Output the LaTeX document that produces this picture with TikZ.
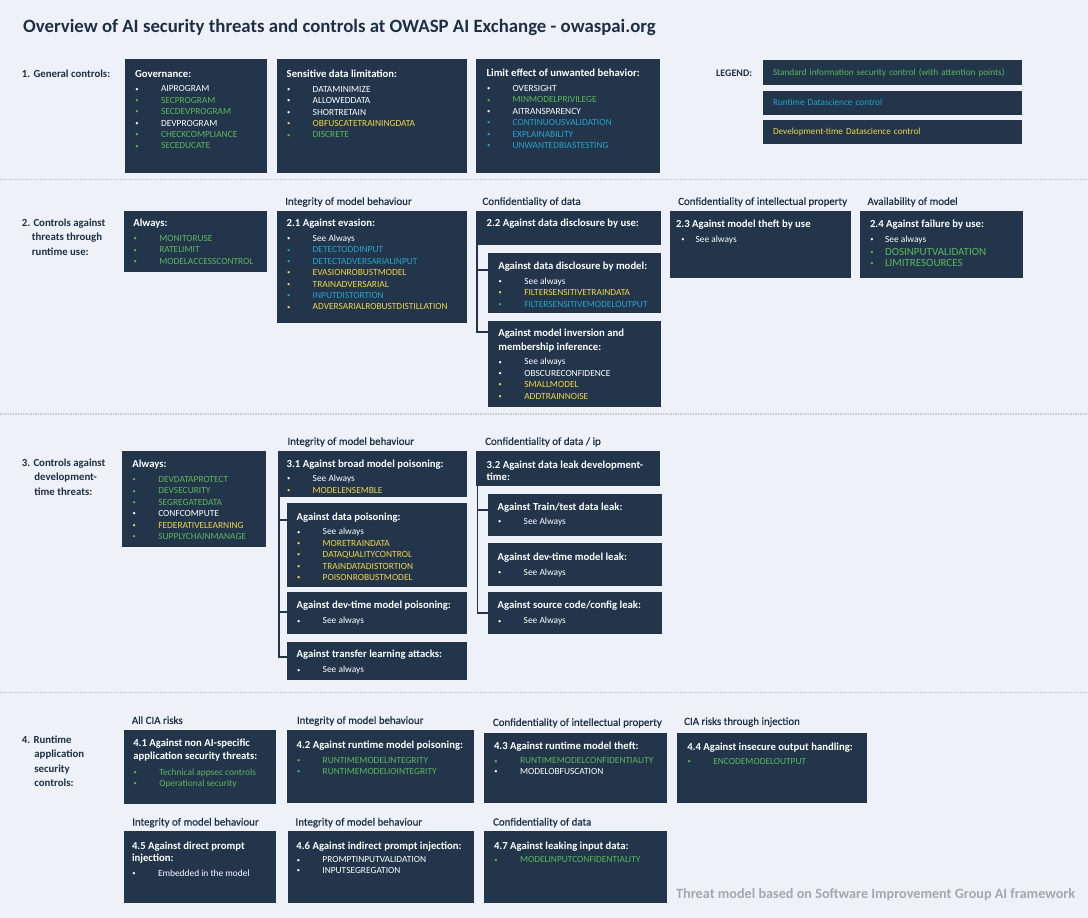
\documentclass[tikz,border=0pt]{standalone}
\usepackage{fontspec}
\setmainfont{Carlito}
\newfontfamily\semib[FakeBold=0.6]{Carlito}
\definecolor{bg}{HTML}{EEF2F8}
\definecolor{navy}{HTML}{22354B}
\definecolor{dk}{HTML}{1E2F45}
\definecolor{gr}{HTML}{5CB85C}
\definecolor{tl}{HTML}{27A4CB}
\definecolor{yl}{HTML}{F0D54A}
\definecolor{ft}{HTML}{A4A8AD}
\definecolor{sepc}{HTML}{C6CAD0}
\tikzset{
 box/.style={fill=navy, draw=none, inner sep=0pt, outer sep=0pt, anchor=north west},
 ct/.style={anchor=north west, inner sep=0pt, outer sep=0pt, align=left, text=white, font=\fontsize{9.4}{11.4}\selectfont},
 cat/.style={anchor=base west, inner sep=0pt, text=dk, font=\semib\fontsize{10.9}{12}\selectfont},
 sec/.style={anchor=north west, inner sep=0pt, align=left, text=dk, font=\bfseries\fontsize{10.8}{14.5}\selectfont},
 conn/.style={draw=navy, line width=1.8pt},
 sepl/.style={draw=sepc, line width=1.3pt, dash pattern=on 1.5pt off 1pt},
 lgbox/.style={box, minimum width=259pt, text width=239pt, align=left, inner xsep=10pt, inner ysep=0pt, font=\fontsize{9.2}{10}\selectfont},
}
\newcommand\hd[1]{\rule{0pt}{9pt}{\bfseries\fontsize{10.7}{11.4}\selectfont #1}}
\newcommand\blt{\raisebox{0.8pt}{\fontsize{6.5}{7}\selectfont\textbullet}}
\newcommand\itm[3][26pt]{\textcolor{#2}{\makebox[#1][l]{\hspace*{0.4pt}\blt}#3}}
\newcommand\bx[5]{\node[box, minimum width={#4pt-#2pt}, minimum height={#5pt-#3pt}] (#1) at (#2,#3) {};}
\newcommand\ctn[4]{\node[ct] (#1) at (#2,{#3-5.6}) {#4};}
\begin{document}
\begin{tikzpicture}[x=1pt,y=-1pt]
\useasboundingbox (0,0) rectangle (1088,918);
\fill[bg] (0,0) rectangle (1088,918);
% title
\node[anchor=base west, inner sep=0pt, text=dk, font=\bfseries\fontsize{18.8}{22}\selectfont] (title) at (23,32.8) {Overview of AI security threats and controls at OWASP AI Exchange - owaspai.org};
% separators
\draw[sepl] (0,179.5) -- (1088,179.5);
\draw[sepl] (0,414) -- (1088,414);
\draw[sepl] (0,692.5) -- (1088,692.5);
% ---------- section 1
\node[sec] (l1) at (21.7,{74-5.5}) {\rule{0pt}{9pt}1. General controls:};
\bx{gov}{125}{59}{266.7}{172.7}
\ctn{tgov}{135}{73.7}{\hd{Governance:}\\[3.4pt]
\itm{white}{AIPROGRAM}\\
\itm{gr}{SECPROGRAM}\\
\itm{gr}{SECDEVPROGRAM}\\
\itm{white}{DEVPROGRAM}\\
\itm{gr}{CHECKCOMPLIANCE}\\
\itm{gr}{SECEDUCATE}}
\bx{sdl}{277}{59}{466.7}{172.7}
\ctn{tsdl}{286.7}{74}{\hd{Sensitive data limitation:}\\[3.4pt]
\itm{white}{DATAMINIMIZE}\\
\itm{white}{ALLOWEDDATA}\\
\itm{white}{SHORTRETAIN}\\
\itm{yl}{OBFUSCATETRAININGDATA}\\
\itm{gr}{DISCRETE}}
\bx{lim}{476}{59}{660}{172.7}
\ctn{tlim}{486.6}{73.3}{\hd{Limit effect of unwanted behavior:}\\[3.4pt]
\itm{white}{OVERSIGHT}\\
\itm{gr}{MINMODELPRIVILEGE}\\
\itm{white}{AITRANSPARENCY}\\
\itm{tl}{CONTINUOUSVALIDATION}\\
\itm{tl}{EXPLAINABILITY}\\
\itm{tl}{UNWANTEDBIASTESTING}}
\node[anchor=base west, inner sep=0pt, text=dk, font=\bfseries\fontsize{10}{12}\selectfont] (leg) at (716,76.6) {LEGEND:};
\node[lgbox, minimum height=25pt] (lg1) at (763,60) {\textcolor{gr}{Standard information security control (with attention points)}};
\node[lgbox, minimum height=23.5pt] (lg2) at (763,91) {\textcolor{tl}{Runtime Datascience control}};
\node[lgbox, minimum height=23.5pt] (lg3) at (763,120) {\textcolor{yl}{Development-time Datascience control}};
% ---------- section 2
\node[sec] (l2) at (21.7,{222.7-5.5}) {\rule{0pt}{9pt}2. Controls against\\\hspace*{10pt}threats through\\\hspace*{10pt}runtime use:};
\node[cat] (c21) at (285,204.9) {Integrity of model behaviour};
\node[cat] (c22) at (482.3,204.9) {Confidentiality of data};
\node[cat] (c23) at (678,204.9) {Confidentiality of intellectual property};
\node[cat] (c24) at (867.3,204.9) {Availability of model};
\bx{b2a}{124}{211}{266.7}{271.7}
\ctn{t2a}{133.3}{223.3}{\hd{Always:}\\[3.4pt]
\itm{gr}{MONITORUSE}\\
\itm{gr}{RATELIMIT}\\
\itm{gr}{MODELACCESSCONTROL}}
\bx{b21}{277}{211}{466.7}{323.3}
\ctn{t21}{286.7}{223.3}{\hd{2.1 Against evasion:}\\[3.4pt]
\itm{white}{See Always}\\
\itm{tl}{DETECTODDINPUT}\\
\itm{tl}{DETECTADVERSARIALINPUT}\\
\itm{yl}{EVASIONROBUSTMODEL}\\
\itm{yl}{TRAINADVERSARIAL}\\
\itm{tl}{INPUTDISTORTION}\\
\itm{yl}{ADVERSARIALROBUSTDISTILLATION}}
\bx{b22}{476}{211}{660.7}{245}
\ctn{t22}{486.7}{223.3}{\hd{2.2 Against data disclosure by use:}}
\bx{s221}{488.3}{253.3}{660.7}{312.7}
\ctn{ts221}{498.3}{266}{\hd{Against data disclosure by model:}\\[3.4pt]
\itm{white}{See always}\\
\itm{yl}{FILTERSENSITIVETRAINDATA}\\
\itm{tl}{FILTERSENSITIVEMODELOUTPUT}}
\bx{s222}{488.3}{321}{660.7}{406.7}
\ctn{ts222}{498.3}{333.3}{\hd{Against model inversion and}\\[2pt]\hd{membership inference:}\\[3.4pt]
\itm{white}{See always}\\
\itm{white}{OBSCURECONFIDENCE}\\
\itm{yl}{SMALLMODEL}\\
\itm{yl}{ADDTRAINNOISE}}
\draw[conn] ([xshift=0.9pt]b22.south west) |- ([yshift=-16.7pt]s221.north west);
\draw[conn] ([xshift=0.9pt]b22.south west) |- ([yshift=-10.7pt]s222.north west);
\bx{b23}{670}{211}{850.7}{277.7}
\ctn{t23}{676}{224.3}{\hd{2.3 Against model theft by use}\\[3.4pt]
\hspace*{5pt}\itm[14.5pt]{white}{See always}}
\bx{b24}{860}{211}{1022.7}{277.7}
\ctn{t24}{870}{224.3}{\hd{2.4 Against failure by use:}\\[3.4pt]
\itm[15pt]{white}{See always}\\[1.3pt]
\itm[15pt]{gr}{\fontsize{11}{11.4}\selectfont DOSINPUTVALIDATION}\\
\itm[15pt]{gr}{\fontsize{11}{11.4}\selectfont LIMITRESOURCES}}
% ---------- section 3
\node[sec] (l3) at (21.7,{462.7-5.5}) {\rule{0pt}{9pt}3. Controls against\\\hspace*{12.5pt}development-\\\hspace*{12.5pt}time threats:};
\node[cat] (c31) at (287.3,444.9) {Integrity of model behaviour};
\node[cat] (c32) at (485,444.9) {Confidentiality of data / ip};
\bx{b3a}{122.3}{451}{265.7}{547}
\ctn{t3a}{132.3}{464.3}{\hd{Always:}\\[3.4pt]
\itm{gr}{DEVDATAPROTECT}\\
\itm{gr}{DEVSECURITY}\\
\itm{gr}{SEGREGATEDATA}\\
\itm{white}{CONFCOMPUTE}\\
\itm{yl}{FEDERATIVELEARNING}\\
\itm{gr}{SUPPLYCHAINMANAGE}}
\bx{b31}{277.7}{451}{466.7}{496.7}
\ctn{t31}{286.7}{464.3}{\hd{3.1 Against broad model poisoning:}\\[2.6pt]
\itm{white}{See Always}\\
\itm{yl}{MODELENSEMBLE}}
\bx{s311}{286.7}{503.3}{466.7}{586.7}
\ctn{ts311}{296.7}{517}{\hd{Against data poisoning:}\\[3pt]
\itm{white}{See always}\\
\itm{yl}{MORETRAINDATA}\\
\itm{yl}{DATAQUALITYCONTROL}\\
\itm{yl}{TRAINDATADISTORTION}\\
\itm{yl}{POISONROBUSTMODEL}}
\bx{s312}{286.7}{592.3}{466.7}{634.3}
\ctn{ts312}{296.7}{605}{\hd{Against dev-time model poisoning:}\\[4pt]
\itm{white}{See always}}
\bx{s313}{286.7}{642.3}{466.7}{680.3}
\ctn{ts313}{296.7}{654.3}{\hd{Against transfer learning attacks:}\\[3.8pt]
\itm{white}{See always}}
\draw[conn] ([xshift=0.9pt]b31.south west) |- ([yshift=-16.7pt]s311.north west);
\draw[conn] ([xshift=0.9pt]b31.south west) |- ([yshift=-20pt]s312.north west);
\draw[conn] ([xshift=0.9pt]b31.south west) |- ([yshift=-15pt]s313.north west);
\bx{b32}{476}{451}{660}{486}
\ctn{t32}{486.7}{465}{\hd{3.2 Against data leak development-}\\[0.9pt]\hd{time:}}
\bx{s321}{488.3}{494}{661.7}{536}
\ctn{ts321}{497.7}{506.7}{\hd{Against Train/test data leak:}\\[3pt]
\itm{white}{See Always}}
\bx{s322}{488.3}{543.3}{661.7}{585.7}
\ctn{ts322}{497.7}{556.7}{\hd{Against dev-time model leak:}\\[3.6pt]
\itm{white}{See Always}}
\bx{s323}{488.3}{592.3}{661.7}{634.3}
\ctn{ts323}{497.7}{605}{\hd{Against source code/config leak:}\\[4pt]
\itm{white}{See Always}}
\draw[conn] ([xshift=1.5pt]b32.south west) |- ([yshift=-16pt]s321.north west);
\draw[conn] ([xshift=1.5pt]b32.south west) |- ([yshift=-21pt]s323.north west);
% ---------- section 4
\node[sec] (l4) at (21.7,{739.3-5.5}) {\rule{0pt}{9pt}4. Runtime\\\hspace*{12.5pt}application\\\hspace*{12.5pt}security\\\hspace*{12.5pt}controls:};
\node[cat] (c41) at (131.7,723.9) {All CIA risks};
\node[cat] (c42) at (296.7,723.9) {Integrity of model behaviour};
\node[cat] (c43) at (492.7,725.9) {Confidentiality of intellectual property};
\node[cat] (c44) at (684,724.9) {CIA risks through injection};
\node[cat] (c45) at (132,825.5) {Integrity of model behaviour};
\node[cat] (c46) at (295.4,825.5) {Integrity of model behaviour};
\node[cat] (c47) at (492.9,825.5) {Confidentiality of data};
\bx{b41}{124}{730}{276}{803.7}
\ctn{t41}{133.3}{743.3}{\hd{4.1 Against non AI-specific}\\[1.3pt]\hd{application security threats:}\\[4.4pt]
\itm{gr}{Technical appsec controls}\\
\itm{gr}{Operational security}}
\bx{b42}{287.3}{730}{474}{802.7}
\ctn{t42}{296.7}{745}{\hd{4.2 Against runtime model poisoning:}\\[3.8pt]
\itm{gr}{RUNTIMEMODELINTEGRITY}\\[-1pt]
\itm{gr}{RUNTIMEMODELIOINTEGRITY}}
\bx{b43}{484}{733.3}{666.7}{803.3}
\ctn{t43}{494}{745.7}{\hd{4.3 Against runtime model theft:}\\[3.4pt]
\itm{gr}{RUNTIMEMODELCONFIDENTIALITY}\\[-0.7pt]
\itm{white}{MODELOBFUSCATION}}
\bx{b44}{677.3}{733.3}{866.7}{803.3}
\ctn{t44}{687.3}{747}{\hd{4.4 Against insecure output handling:}\\[2.8pt]
\itm{gr}{ENCODEMODELOUTPUT}}
\bx{b45}{124}{831}{276}{902.7}
\ctn{t45}{132}{845.7}{\hd{4.5 Against direct prompt}\\[1.2pt]\hd{injection:}\\[3.1pt]
\itm{white}{Embedded in the model}}
\bx{b46}{287.5}{831}{474}{902.7}
\ctn{t46}{296.4}{845.7}{\hd{4.6 Against indirect prompt injection:}\\[2.4pt]
\itm{white}{PROMPTINPUTVALIDATION}\\[-0.7pt]
\itm{white}{INPUTSEGREGATION}}
\bx{b47}{484}{831}{667}{902.7}
\ctn{t47}{494}{845.7}{\hd{4.7 Against leaking input data:}\\[2.4pt]
\itm{gr}{MODELINPUTCONFIDENTIALITY}}
% footer
\node[anchor=base west, inner sep=0pt, text=ft, font=\bfseries\fontsize{14.2}{16}\selectfont] (foot) at (676,898.5) {Threat model based on Software Improvement Group AI framework};
\end{tikzpicture}
\end{document}
